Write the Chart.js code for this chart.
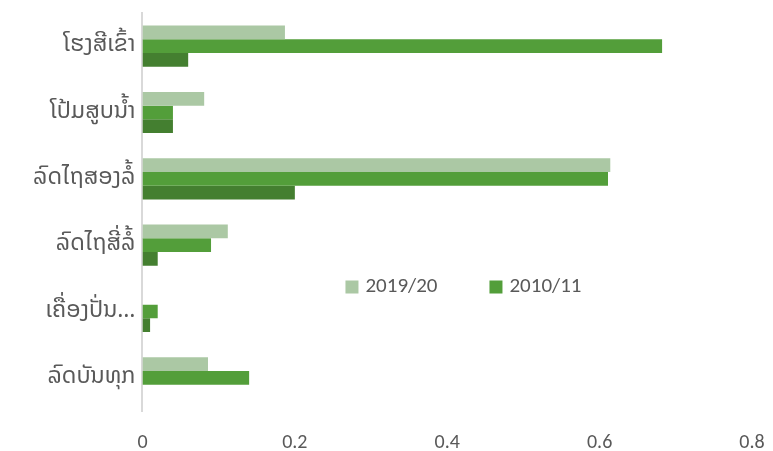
<!DOCTYPE html>
<html>
<head>
<meta charset="utf-8">
<script src="https://cdn.jsdelivr.net/npm/chart.js@4.4.1/dist/chart.umd.min.js"></script>
<style>
  html, body { margin: 0; padding: 0; background: #fff; }
  #wrap { width: 773px; height: 451px; position: relative; }
</style>
</head>
<body>
<div id="wrap"><canvas id="chart" width="773" height="451"></canvas></div>
<script>
// categorias (eje vertical)
const categorias = ['ໂຮງສີເຂົ້າ', 'ໂປ້ມສູບນ້ຳ', 'ລົດໄຖສອງລໍ້', 'ລົດໄຖສີ່ລໍ້', 'ເຄື່ອງປັ່ນ…', 'ລົດບັນທຸກ'];
// series
const serie2019 = [0.187, 0.081, 0.614, 0.112, 0, 0.086];
const serie2010 = [0.682, 0.040, 0.611, 0.090, 0.020, 0.140];
const serieTercera = [0.060, 0.040, 0.200, 0.020, 0.010, 0];
const etiquetas = ['2019/20', '2010/11', ''];
const ticksX = [0, 0.2, 0.4, 0.6, 0.8];

const colores = ['#abc8a4', '#539e3a', '#447f30'];
const fuente = "Calibri, Carlito, Lato, 'DejaVu Sans', sans-serif";
const fuenteLao = "'Noto Sans Lao', 'DejaVu Sans', sans-serif";

// leyenda dentro del area del grafico, como en el original
const leyendaInterna = {
    id: 'leyendaInterna',
    afterDraw(chart) {
        const ctx = chart.ctx;
        const area = chart.chartArea;
        ctx.save();
        ctx.font = '21px ' + fuente;
        ctx.textBaseline = 'middle';
        let x = area.left + 203;
        const y = area.top + 274;
        for (let i = 0; i < 2; i++) {
            ctx.fillStyle = colores[i];
            ctx.fillRect(x, y - 6.5, 13, 13);
            ctx.fillStyle = '#595959';
            ctx.fillText(etiquetas[i], x + 20, y);
            x += 144;
        }
        ctx.restore();
    }
};

const ctx = document.getElementById('chart').getContext('2d');
new Chart(ctx, {
    type: 'bar',
    data: {
        labels: categorias,
        datasets: [serie2019, serie2010, serieTercera].map((d, i) => ({
            label: etiquetas[i],
            data: d,
            backgroundColor: colores[i],
            borderWidth: 0,
            barPercentage: 1,
            categoryPercentage: 0.62
        }))
    },
    options: {
        indexAxis: 'y',
        responsive: false,
        maintainAspectRatio: false,
        animation: false,
        layout: { padding: { top: 13, right: 21, left: 26, bottom: -24 } },
        scales: {
            x: {
                min: 0,
                max: 0.8,
                afterBuildTicks: axis => { axis.ticks = ticksX.map(v => ({ value: v })); },
                afterFit: axis => { axis.paddingLeft = 0; axis.paddingRight = 0; },
                grid: { display: false, drawTicks: false },
                border: { display: false },
                ticks: {
                    color: '#595959',
                    font: { size: 20, family: fuente },
                    padding: 20
                }
            },
            y: {
                afterFit: axis => { axis.paddingTop = 0; axis.paddingBottom = 0; },
                grid: { display: false, drawTicks: false },
                border: { display: true, color: '#d9d9d9', width: 2 },
                ticks: {
                    color: '#595959',
                    font: { size: 23, family: fuenteLao },
                    padding: 7
                }
            }
        },
        plugins: {
            legend: { display: false },
            tooltip: { enabled: false }
        }
    },
    plugins: [leyendaInterna]
});
</script>
</body>
</html>
